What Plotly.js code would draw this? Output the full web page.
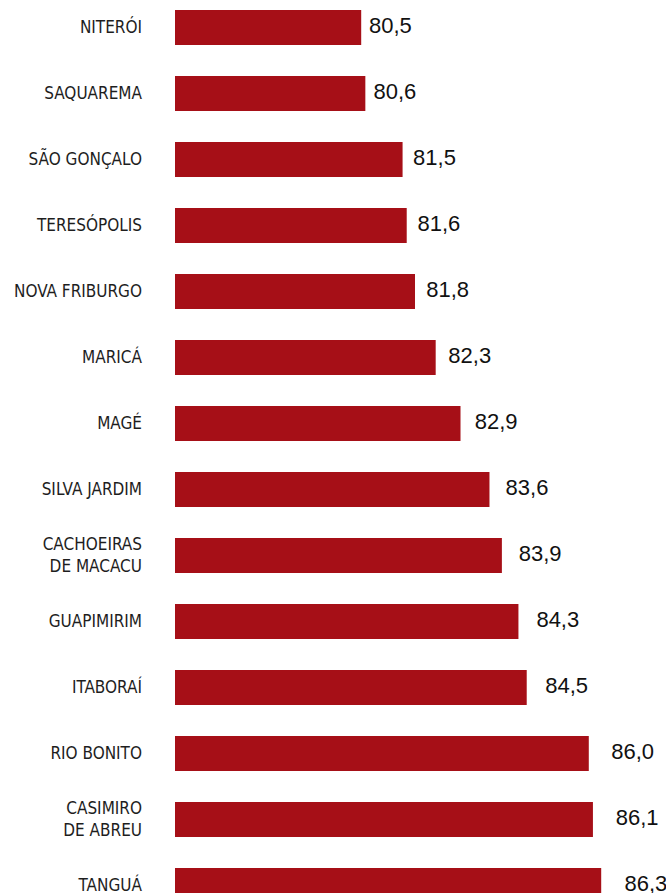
<!DOCTYPE html>
<html>
<head>
<meta charset="utf-8">
<script src="https://cdn.plot.ly/plotly-3.0.1.min.js"></script>
<style>
  html, body { margin: 0; padding: 0; background: #ffffff; }
  #chart { width: 666px; height: 893px; }
</style>
</head>
<body>
<div id="chart"></div>
<script>
var categories = [
  "NITERÓI", "SAQUAREMA", "SÃO GONÇALO", "TERESÓPOLIS", "NOVA FRIBURGO",
  "MARICÁ", "MAGÉ", "SILVA JARDIM", "CACHOEIRAS<br>DE MACACU", "GUAPIMIRIM",
  "ITABORAÍ", "RIO BONITO", "CASIMIRO<br>DE ABREU", "TANGUÁ"
];
var values = [80.5, 80.6, 81.5, 81.6, 81.8, 82.3, 82.9, 83.6, 83.9, 84.3, 84.5, 86.0, 86.1, 86.3];
var valueLabels = ["80,5", "80,6", "81,5", "81,6", "81,8", "82,3", "82,9", "83,6", "83,9", "84,3", "84,5", "86,0", "86,1", "86,3"];

var barTrace = {
  type: "bar",
  orientation: "h",
  x: values,
  y: categories,
  marker: { color: "#a60f17" },
  hoverinfo: "none",
  cliponaxis: false
};

var textTrace = {
  type: "scatter",
  mode: "text",
  x: values,
  y: categories,
  text: valueLabels,
  textposition: "middle right",
  textfont: { family: "Liberation Sans, Arial, sans-serif", size: 22, color: "#111111" },
  xaxis: "x2",
  yaxis: "y",
  hoverinfo: "none",
  cliponaxis: false
};

var layout = {
  width: 666,
  height: 893,
  margin: { l: 175, r: 0, t: 0, b: 0, pad: 0 },
  paper_bgcolor: "#ffffff",
  plot_bgcolor: "#ffffff",
  showlegend: false,
  bargap: 0.47,
  xaxis: {
    range: [76, 87.866],
    visible: false,
    fixedrange: true
  },
  xaxis2: {
    range: [76.096, 87.242],
    overlaying: "x",
    visible: false,
    fixedrange: true
  },
  yaxis: {
    type: "category",
    categoryorder: "array",
    categoryarray: categories,
    range: [13.1136, -0.4167],
    autorange: false,
    showgrid: false,
    zeroline: false,
    showline: false,
    ticks: "",
    ticklabelstandoff: 32,
    tickfont: { family: "DejaVu Sans Condensed, DejaVu Sans, sans-serif", size: 17, color: "#1e1e1e" },
    fixedrange: true
  }
};

Plotly.newPlot("chart", [barTrace, textTrace], layout, { displayModeBar: false, staticPlot: true });
</script>
</body>
</html>
